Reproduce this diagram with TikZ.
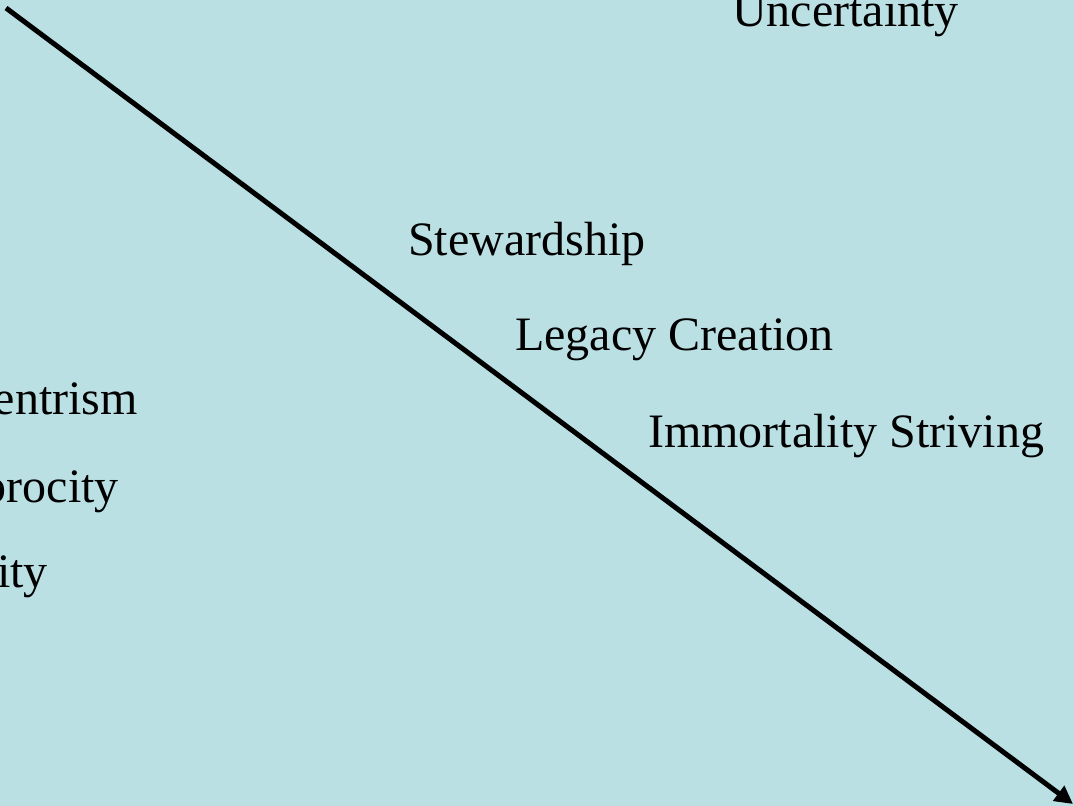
\documentclass[tikz,border=0pt]{standalone}
\usepackage{fontspec}
\setmainfont{Liberation Serif}
\usetikzlibrary{arrows.meta}
\definecolor{bgblue}{RGB}{186,224,228}
\begin{document}
\begin{tikzpicture}[x=1pt,y=-1pt,
  lbl/.style={inner sep=0pt,font=\fontsize{48}{58}\selectfont,text=black},
  axisarrow/.style={line width=5pt,-{Triangle[length=18pt,width=18pt]}}]
\useasboundingbox (0,0) rectangle (1074,806);
\clip (0,0) rectangle (1074,806);
\fill[bgblue] (0,0) rectangle (1074,806);
\node[lbl,anchor=base west] (unc) at (732,26) {Uncertainty};
\node[lbl,anchor=base west] (stew) at (408,255) {Stewardship};
\node[lbl,anchor=base west] (leg) at (515,350) {Legacy Creation};
\node[lbl,anchor=base west] (imm) at (648,447) {Immortality Striving};
\node[lbl,anchor=base east] (ent) at (138,414) {entrism};
\node[lbl,anchor=base east] (rec) at (119,502) {procity};
\node[lbl,anchor=base east] (ity) at (48,587) {ity};
\coordinate (start) at (6,8);
\coordinate (end) at (1073,804);
\draw[axisarrow] (start) -- (end);
\end{tikzpicture}
\end{document}
